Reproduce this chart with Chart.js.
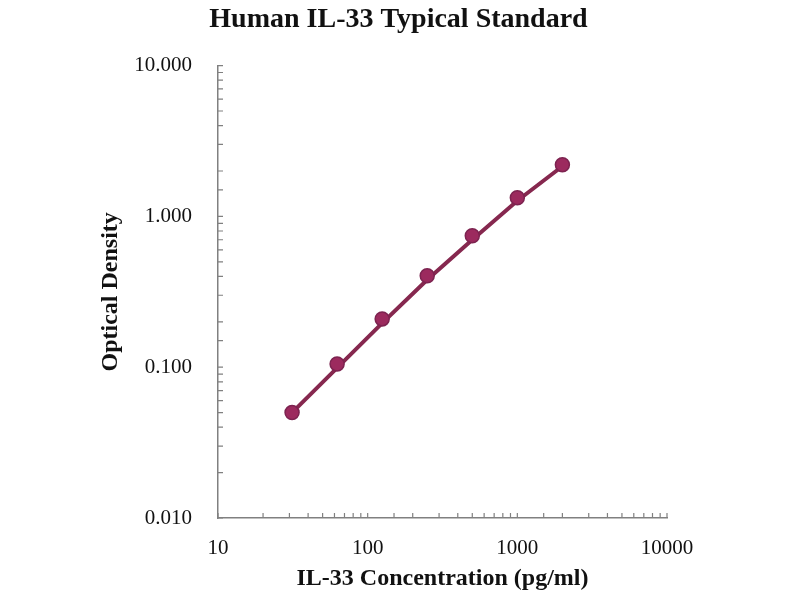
<!DOCTYPE html>
<html>
<head>
<meta charset="utf-8">
<script src="https://cdn.jsdelivr.net/npm/chart.js@4.4.0/dist/chart.umd.min.js"></script>
<style>
  html, body { margin: 0; padding: 0; background: #fff; }
  #wrap { width: 800px; height: 600px; }
</style>
</head>
<body>
<div id="wrap"><canvas id="myChart"></canvas></div>
<script>
// standard concentrations (pg/ml) and measured OD
var concentrations = [31.25, 62.5, 125, 250, 500, 1000, 2000];
var odValues = [0.050, 0.105, 0.209, 0.404, 0.744, 1.33, 2.20];
// fitted curve
var fitValues = [0.050, 0.099, 0.196, 0.380, 0.700, 1.27, 2.15];
var xTickLabels = [10, 100, 1000, 10000];
var yTickLabels = [0.01, 0.1, 1, 10];

var serif = '"Liberation Serif", "Times New Roman", serif';

function isDecade(v) {
    var l = Math.log10(v);
    return Math.abs(l - Math.round(l)) < 1e-9;
}

// small tick marks pointing into the plot
var innerTicks = {
    id: 'innerTicks',
    afterDraw: function(chart) {
        var c = chart.ctx;
        var xs = chart.scales.x, ys = chart.scales.y;
        c.save();
        c.strokeStyle = '#808080';
        c.lineWidth = 1.2;
        c.beginPath();
        xs.ticks.forEach(function(t) {
            var px = xs.getPixelForValue(t.value);
            c.moveTo(px, ys.bottom);
            c.lineTo(px, ys.bottom - 5);
        });
        ys.ticks.forEach(function(t) {
            var py = ys.getPixelForValue(t.value);
            c.moveTo(xs.left, py);
            c.lineTo(xs.left + 5, py);
        });
        c.stroke();
        c.restore();
    }
};

var ctx = document.getElementById('myChart').getContext('2d');
var myChart = new Chart(ctx, {
    type: 'scatter',
    data: {
        datasets: [{
            label: 'Fit',
            data: concentrations.map(function(x, i) { return {x: x, y: fitValues[i]}; }),
            showLine: true,
            borderColor: '#86284f',
            borderWidth: 4,
            pointRadius: 0,
            tension: 0,
            order: 2
        }, {
            label: 'Standard',
            data: concentrations.map(function(x, i) { return {x: x, y: odValues[i]}; }),
            backgroundColor: '#9c2a5e',
            borderColor: '#7d2350',
            borderWidth: 1.5,
            pointRadius: 7,
            order: 1
        }]
    },
    options: {
        responsive: true,
        maintainAspectRatio: false,
        animation: false,
        layout: {
            padding: { left: 130, right: 133, top: 0, bottom: 0 }
        },
        plugins: {
            legend: { display: false },
            tooltip: { enabled: false },
            title: {
                display: true,
                text: 'Human IL-33 Typical Standard',
                color: '#111',
                font: { family: serif, size: 28, weight: 'bold' },
                padding: { top: 3, bottom: 29 }
            }
        },
        scales: {
            x: {
                type: 'logarithmic',
                min: 10,
                max: 10000,
                afterFit: function(s) { s.height = 82; },
                grid: { display: false },
                border: { display: true, color: '#808080', width: 1.5 },
                ticks: {
                    autoSkip: false,
                    maxRotation: 0,
                    padding: 10,
                    color: '#111',
                    font: { family: serif, size: 21 },
                    callback: function(v) {
                        return xTickLabels.indexOf(Math.round(v)) >= 0 && isDecade(v) ? String(Math.round(v)) : '';
                    }
                },
                title: {
                    display: true,
                    text: 'IL-33 Concentration (pg/ml)',
                    color: '#111',
                    font: { family: serif, size: 24, weight: 'bold' },
                    padding: { top: 0, bottom: 7 }
                }
            },
            y: {
                type: 'logarithmic',
                min: 0.01,
                max: 10,
                afterFit: function(s) { s.width = 88; },
                grid: { display: false },
                border: { display: true, color: '#808080', width: 1.5 },
                ticks: {
                    autoSkip: false,
                    padding: 18,
                    color: '#111',
                    font: { family: serif, size: 21 },
                    callback: function(v) {
                        if (!isDecade(v)) return '';
                        var hit = yTickLabels.some(function(t) { return Math.abs(t - v) < 1e-9; });
                        return hit ? v.toFixed(3) : '';
                    }
                },
                title: {
                    display: true,
                    text: 'Optical Density',
                    color: '#111',
                    font: { family: serif, size: 24, weight: 'bold' },
                    padding: { top: -34, bottom: 0 }
                }
            }
        }
    },
    plugins: [innerTicks]
});
</script>
</body>
</html>
